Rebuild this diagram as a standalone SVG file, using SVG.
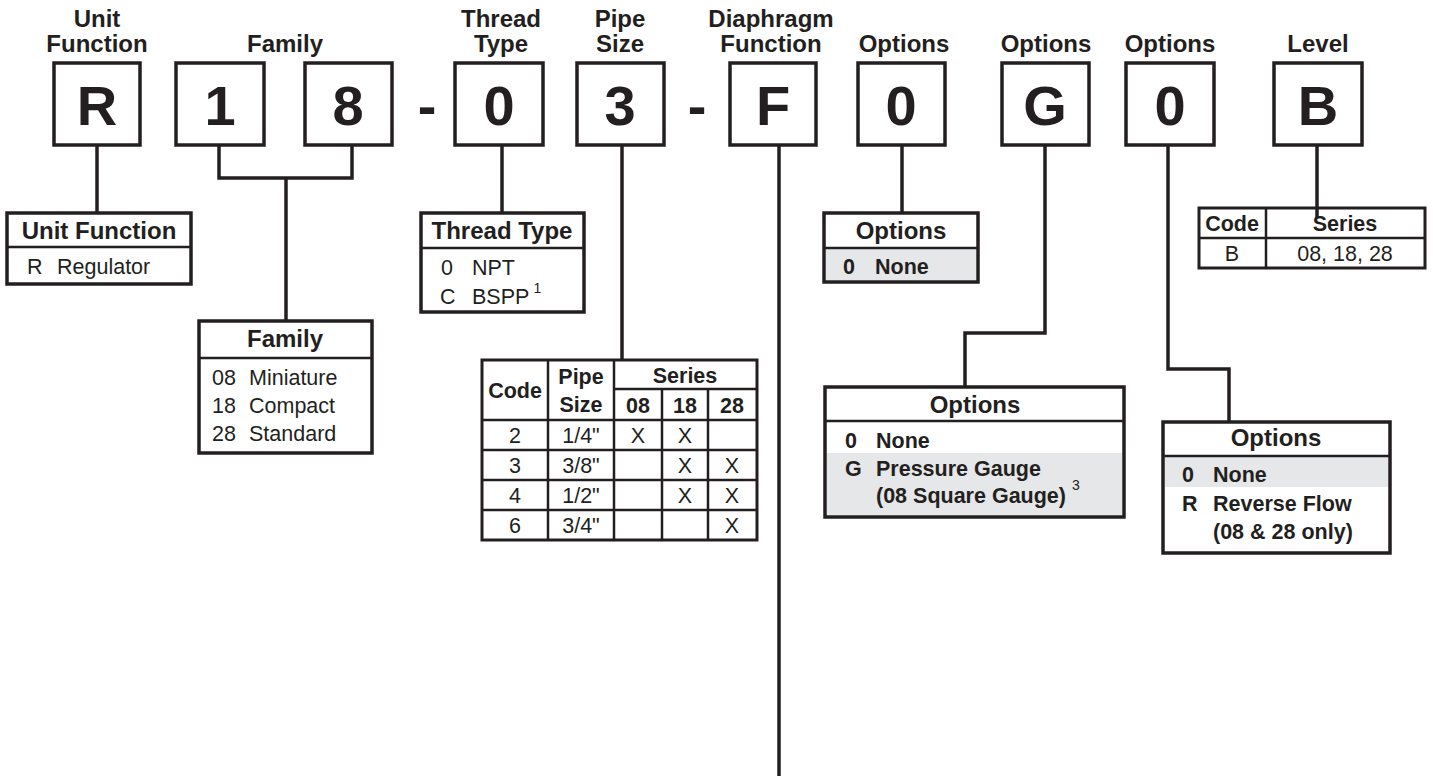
<svg xmlns="http://www.w3.org/2000/svg" width="1433" height="780" viewBox="0 0 1433 780">
<defs>
<style>
.bg{fill:#ffffff}
.box{fill:#ffffff;stroke:#231f20;stroke-width:3.5}
.tbl{fill:none;stroke:#231f20;stroke-width:3}
.ln{fill:none;stroke:#231f20;stroke-width:2.5}
.gray{fill:#e6e7e8}
.con{fill:none;stroke:#231f20;stroke-width:3.5}
text{font-family:"Liberation Sans",Arial,Helvetica,sans-serif;fill:#231f20}
.hd{font-size:24px;font-weight:bold;text-anchor:middle}
.big{font-size:56px;font-weight:bold;text-anchor:middle}
.th{font-size:24px;font-weight:bold}
.tc{text-anchor:middle}
.rg{font-size:21.5px}
.bd{font-size:21.5px;font-weight:bold}
.sup{font-size:14px;font-weight:normal}
</style>
</defs>
<rect class="bg" x="0" y="0" width="1433" height="780"/>

<g id="connectors">
<line class="con" x1="97" y1="145" x2="97" y2="213"/>
<polyline class="con" points="219,145 219,178 352,178 352,145"/>
<line class="con" x1="286" y1="178" x2="286" y2="321"/>
<line class="con" x1="502" y1="145" x2="502" y2="213"/>
<line class="con" x1="622" y1="145" x2="622" y2="360"/>
<line class="con" x1="779" y1="145" x2="779" y2="776"/>
<line class="con" x1="902" y1="145" x2="902" y2="213"/>
<polyline class="con" points="1045,145 1045,333 965,333 965,387"/>
<polyline class="con" points="1168,145 1168,369 1229,369 1229,422"/>
<line class="con" x1="1317" y1="145" x2="1317" y2="218"/>
</g>

<g id="headers">
<text class="hd" x="97" y="27">Unit</text>
<text class="hd" x="97" y="52">Function</text>
<text class="hd" x="285" y="52">Family</text>
<text class="hd" x="501" y="27">Thread</text>
<text class="hd" x="501" y="52">Type</text>
<text class="hd" x="620" y="27">Pipe</text>
<text class="hd" x="620" y="52">Size</text>
<text class="hd" x="771" y="27">Diaphragm</text>
<text class="hd" x="771" y="52">Function</text>
<text class="hd" x="904" y="52">Options</text>
<text class="hd" x="1046" y="52">Options</text>
<text class="hd" x="1170" y="52">Options</text>
<text class="hd" x="1318" y="52">Level</text>
</g>

<g id="code-boxes">
<g id="box-R"><rect class="box" x="54" y="63" width="86" height="82"/><text class="big" x="97" y="125">R</text></g>
<g id="box-1"><rect class="box" x="176" y="63" width="88" height="82"/><text class="big" x="220" y="125">1</text></g>
<g id="box-8"><rect class="box" x="305" y="63" width="87" height="82"/><text class="big" x="348" y="125">8</text></g>
<text class="big" x="427" y="125">-</text>
<g id="box-0a"><rect class="box" x="455" y="63" width="88" height="82"/><text class="big" x="499" y="125">0</text></g>
<g id="box-3"><rect class="box" x="577" y="63" width="87" height="82"/><text class="big" x="620" y="125">3</text></g>
<text class="big" x="697" y="125">-</text>
<g id="box-F"><rect class="box" x="730" y="63" width="86" height="82"/><text class="big" x="773" y="125">F</text></g>
<g id="box-0b"><rect class="box" x="858" y="63" width="87" height="82"/><text class="big" x="901" y="125">0</text></g>
<g id="box-G"><rect class="box" x="1002" y="63" width="87" height="82"/><text class="big" x="1045" y="125">G</text></g>
<g id="box-0c"><rect class="box" x="1126" y="63" width="88" height="82"/><text class="big" x="1170" y="125">0</text></g>
<g id="box-B"><rect class="box" x="1274" y="63" width="88" height="82"/><text class="big" x="1318" y="125">B</text></g>
</g>

<g id="unit-function">
<rect class="box" x="7" y="213" width="184" height="71"/>
<line class="ln" x1="7" y1="247" x2="191" y2="247"/>
<text class="th tc" x="99" y="239">Unit Function</text>
<text class="rg" x="27" y="274">R</text>
<text class="rg" x="57" y="274">Regulator</text>
</g>

<g id="family">
<rect class="box" x="199" y="321" width="173" height="132"/>
<line class="ln" x1="199" y1="358" x2="372" y2="358"/>
<text class="th tc" x="285" y="347">Family</text>
<text class="rg" x="212" y="385">08</text><text class="rg" x="249" y="385">Miniature</text>
<text class="rg" x="212" y="413">18</text><text class="rg" x="249" y="413">Compact</text>
<text class="rg" x="212" y="441">28</text><text class="rg" x="249" y="441">Standard</text>
</g>

<g id="thread-type">
<rect class="box" x="421" y="213" width="163" height="99"/>
<line class="ln" x1="421" y1="248" x2="584" y2="248"/>
<text class="th tc" x="502" y="239">Thread Type</text>
<text class="rg" x="441" y="275">0</text><text class="rg" x="472" y="275">NPT</text>
<text class="rg" x="440" y="304">C</text><text class="rg" x="472" y="304">BSPP<tspan class="sup" dx="4" dy="-11">1</tspan></text>
</g>

<g id="pipe-size">
<rect class="tbl" x="482" y="360" width="275" height="180"/>
<line class="ln" x1="548" y1="360" x2="548" y2="540"/>
<line class="ln" x1="614" y1="360" x2="614" y2="540"/>
<line class="ln" x1="662" y1="389" x2="662" y2="540"/>
<line class="ln" x1="708" y1="389" x2="708" y2="540"/>
<line class="ln" x1="614" y1="389" x2="757" y2="389"/>
<line class="ln" x1="482" y1="420" x2="757" y2="420"/>
<line class="ln" x1="482" y1="450" x2="757" y2="450"/>
<line class="ln" x1="482" y1="480" x2="757" y2="480"/>
<line class="ln" x1="482" y1="510" x2="757" y2="510"/>
<text class="bd tc" x="515" y="398">Code</text>
<text class="bd tc" x="581" y="384">Pipe</text>
<text class="bd tc" x="581" y="412">Size</text>
<text class="bd tc" x="685" y="383">Series</text>
<text class="bd tc" x="638" y="413">08</text>
<text class="bd tc" x="685" y="413">18</text>
<text class="bd tc" x="732" y="413">28</text>
<text class="rg tc" x="515" y="443">2</text><text class="rg tc" x="581" y="443">1/4"</text><text class="rg tc" x="638" y="443">X</text><text class="rg tc" x="685" y="443">X</text>
<text class="rg tc" x="515" y="473">3</text><text class="rg tc" x="581" y="473">3/8"</text><text class="rg tc" x="685" y="473">X</text><text class="rg tc" x="732" y="473">X</text>
<text class="rg tc" x="515" y="503">4</text><text class="rg tc" x="581" y="503">1/2"</text><text class="rg tc" x="685" y="503">X</text><text class="rg tc" x="732" y="503">X</text>
<text class="rg tc" x="515" y="533">6</text><text class="rg tc" x="581" y="533">3/4"</text><text class="rg tc" x="732" y="533">X</text>
</g>

<g id="options-1">
<rect class="box" x="824" y="213" width="154" height="69"/>
<rect class="gray" x="826" y="248" width="150" height="32"/>
<line class="ln" x1="824" y1="248" x2="978" y2="248"/>
<text class="th tc" x="901" y="239">Options</text>
<text class="bd" x="843" y="274">0</text><text class="bd" x="875" y="274">None</text>
</g>

<g id="options-2">
<rect class="box" x="825" y="387" width="299" height="130"/>
<rect class="gray" x="827" y="453" width="295" height="62"/>
<line class="ln" x1="825" y1="421" x2="1124" y2="421"/>
<text class="th tc" x="975" y="413">Options</text>
<text class="bd" x="845" y="448">0</text><text class="bd" x="876" y="448">None</text>
<text class="bd" x="845" y="476">G</text><text class="bd" x="876" y="476">Pressure Gauge</text>
<text class="bd" x="876" y="503">(08 Square Gauge)<tspan class="sup" dx="6" dy="-13">3</tspan></text>
</g>

<g id="options-3">
<rect class="box" x="1163" y="422" width="227" height="131"/>
<rect class="gray" x="1165" y="456" width="223" height="31"/>
<line class="ln" x1="1163" y1="456" x2="1390" y2="456"/>
<text class="th tc" x="1276" y="446">Options</text>
<text class="bd" x="1182" y="482">0</text><text class="bd" x="1213" y="482">None</text>
<text class="bd" x="1182" y="511">R</text><text class="bd" x="1213" y="511">Reverse Flow</text>
<text class="bd" x="1213" y="539">(08 &amp; 28 only)</text>
</g>

<g id="level">
<rect class="tbl" x="1199" y="208" width="226" height="60"/>
<line class="ln" x1="1199" y1="238" x2="1425" y2="238"/>
<line class="ln" x1="1266" y1="208" x2="1266" y2="268"/>
<text class="bd tc" x="1232" y="231">Code</text>
<text class="bd tc" x="1345" y="231">Series</text>
<text class="rg tc" x="1232" y="261">B</text>
<text class="rg tc" x="1345" y="261">08, 18, 28</text>
</g>
</svg>
